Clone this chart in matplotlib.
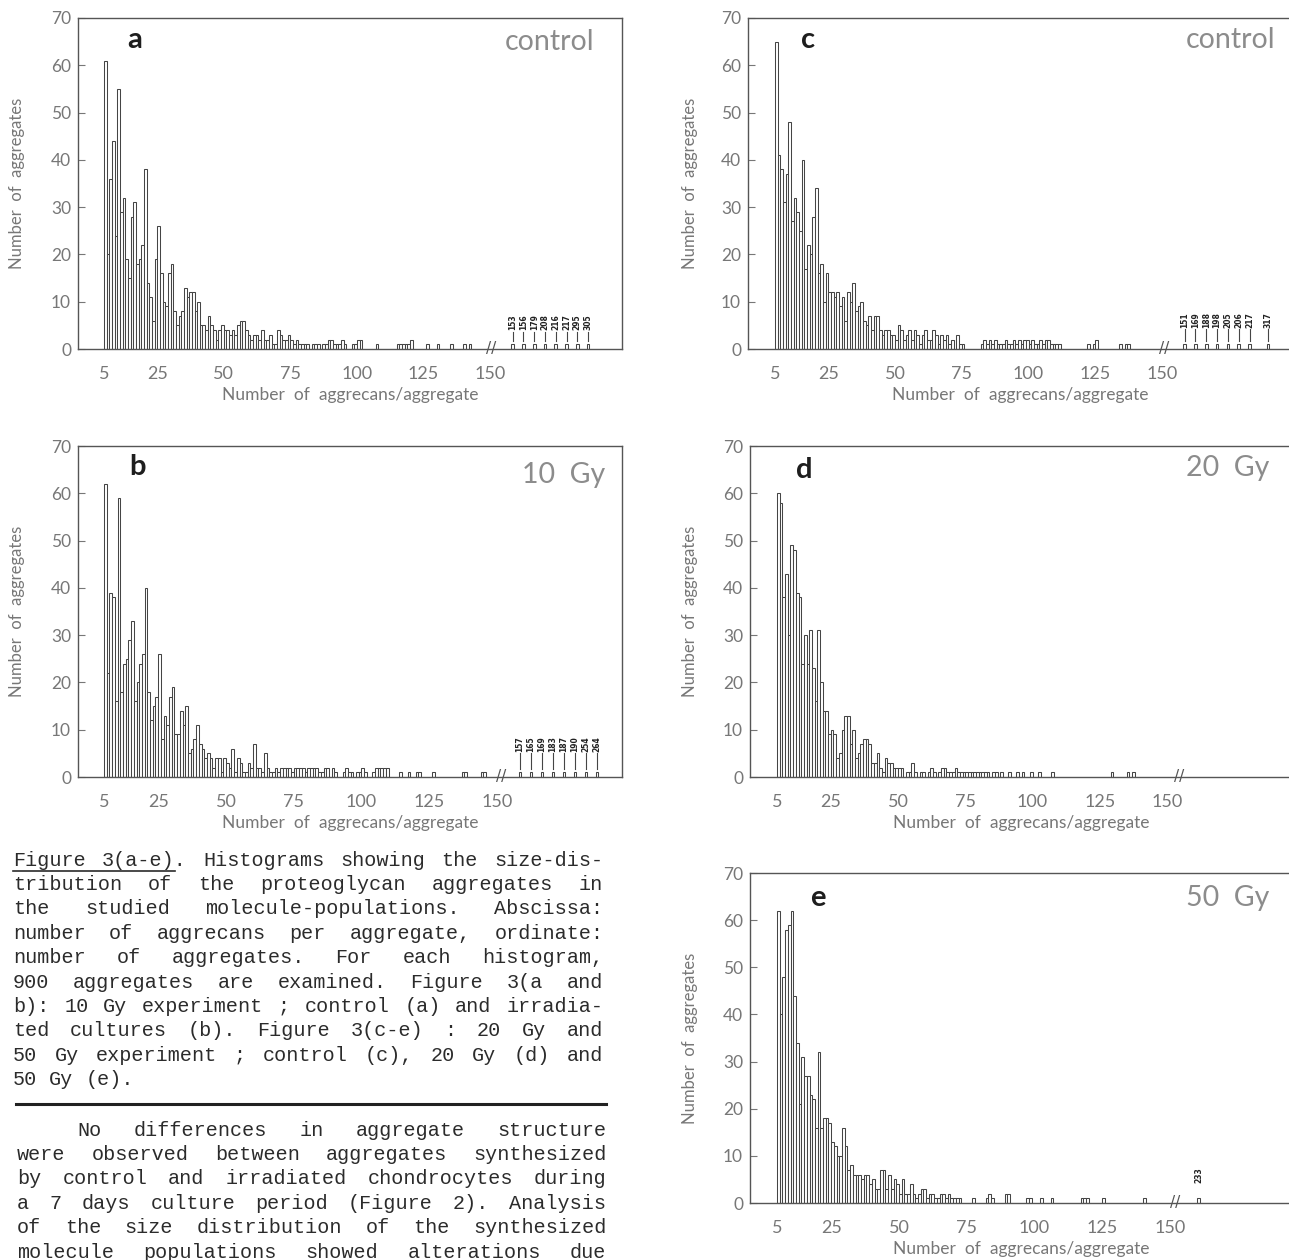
import matplotlib.pyplot as plt
from matplotlib.lines import Line2D
import numpy as np

W, H = 1289, 1260
first_value = 5

# counts per size class (5, 6, 7, ...)
counts_a = [61, 20, 36, 44, 24, 55, 29, 32, 19, 15,
            28, 31, 18, 19, 22, 38, 14, 11, 6, 19,
            26, 16, 10, 9, 16, 18, 8, 5, 7, 8,
            13, 11, 12, 12, 8, 10, 5, 5, 4, 7,
            5, 4, 2, 4, 5, 4, 4, 3, 4, 3,
            5, 6, 6, 4, 3, 2, 3, 3, 2, 4,
            2, 2, 3, 1, 1, 4, 3, 2, 2, 3,
            2, 1, 2, 1, 1, 1, 1, 0, 1, 1,
            1, 0, 1, 1, 2, 2, 1, 1, 1, 2,
            1, 0, 0, 1, 1, 2, 2, 0, 0, 0,
            0, 0, 1, 0, 0, 0, 0, 0, 0, 0,
            1, 1, 1, 1, 1, 2, 0, 0, 0, 0,
            0, 1, 0, 0, 0, 1, 0, 0, 0, 0,
            1, 0, 0, 0, 0, 1, 0, 1]
counts_b = [62, 22, 39, 38, 16, 59, 18, 24, 25, 29,
            33, 16, 20, 24, 26, 40, 18, 12, 15, 17,
            26, 8, 13, 11, 17, 19, 9, 9, 14, 11,
            15, 5, 6, 8, 11, 7, 6, 4, 5, 4,
            2, 4, 4, 1, 4, 3, 2, 6, 1, 4,
            3, 1, 1, 3, 2, 7, 2, 2, 1, 5,
            2, 1, 1, 2, 1, 2, 2, 2, 2, 1,
            2, 2, 2, 2, 1, 2, 2, 2, 2, 1,
            1, 2, 2, 0, 2, 1, 0, 0, 1, 2,
            1, 1, 0, 1, 1, 2, 1, 0, 0, 1,
            2, 2, 2, 2, 2, 0, 0, 0, 0, 1,
            0, 0, 1, 0, 0, 1, 1, 0, 0, 0,
            0, 1, 0, 0, 0, 0, 0, 0, 0, 0,
            0, 0, 1, 1, 0, 0, 0, 0, 0, 1,
            1]
counts_c = [65, 41, 38, 31, 37, 48, 27, 32, 29, 25,
            40, 17, 22, 20, 28, 34, 16, 18, 10, 16,
            12, 12, 11, 12, 9, 11, 6, 12, 10, 14,
            8, 9, 10, 6, 5, 7, 4, 7, 7, 4,
            3, 4, 4, 3, 3, 2, 5, 4, 2, 3,
            4, 2, 4, 3, 1, 3, 4, 2, 2, 4,
            3, 1, 3, 2, 3, 1, 2, 0, 3, 1,
            1, 0, 0, 0, 0, 0, 0, 1, 2, 1,
            2, 1, 2, 1, 1, 1, 2, 1, 1, 2,
            1, 2, 1, 2, 2, 1, 2, 1, 1, 2,
            1, 2, 2, 1, 1, 1, 1, 0, 0, 0,
            0, 0, 0, 0, 0, 0, 0, 1, 0, 1,
            2, 0, 0, 0, 0, 0, 0, 0, 0, 1,
            0, 1, 1]
counts_d = [60, 58, 38, 43, 30, 49, 48, 39, 38, 24,
            30, 24, 31, 23, 16, 31, 20, 14, 14, 9,
            10, 9, 4, 5, 10, 13, 13, 7, 10, 4,
            5, 7, 8, 8, 7, 3, 3, 5, 2, 1,
            4, 3, 3, 2, 2, 2, 2, 0, 1, 1,
            3, 1, 0, 1, 1, 0, 1, 2, 1, 0,
            1, 2, 2, 1, 1, 1, 2, 1, 1, 1,
            1, 1, 1, 1, 1, 1, 1, 1, 1, 0,
            1, 1, 0, 1, 0, 0, 1, 0, 0, 1,
            0, 1, 0, 0, 1, 0, 0, 1, 0, 0,
            0, 0, 1, 0, 0, 0, 0, 0, 0, 0,
            0, 0, 0, 0, 0, 0, 0, 0, 0, 0,
            0, 0, 0, 0, 1, 0, 0, 0, 0, 0,
            1, 0, 1]
counts_e = [62, 40, 48, 58, 59, 62, 44, 34, 21, 31,
            27, 27, 23, 22, 16, 32, 16, 18, 18, 17,
            13, 12, 10, 10, 16, 12, 7, 8, 6, 6,
            6, 5, 6, 6, 4, 5, 3, 3, 7, 7,
            3, 6, 3, 5, 4, 2, 5, 2, 2, 4,
            2, 1, 2, 3, 3, 1, 2, 2, 1, 1,
            2, 2, 1, 2, 1, 1, 1, 1, 0, 0,
            0, 0, 1, 0, 0, 0, 0, 1, 2, 1,
            0, 0, 0, 0, 2, 2, 0, 0, 0, 0,
            0, 0, 1, 1, 0, 0, 0, 1, 0, 0,
            0, 1, 0, 0, 0, 0, 0, 0, 0, 0,
            0, 0, 1, 1, 1, 0, 0, 0, 0, 0,
            1, 0, 0, 0, 0, 0, 0, 0, 0, 0,
            0, 0, 0, 0, 0, 1]

# single large aggregates shown behind the axis break
outliers_a = [153, 156, 179, 208, 216, 217, 295, 305]
outliers_b = [157, 165, 169, 183, 187, 190, 254, 264]
outliers_c = [151, 169, 188, 198, 205, 206, 217, 317]
outliers_d = []
outliers_e = [233]

xticks = [5, 25, 50, 75, 100, 125, 150]
yticks = [0, 10, 20, 30, 40, 50, 60, 70]

caption_lines = [
    "Figure 3(a-e). Histograms showing the size-dis-",
    "tribution of the proteoglycan aggregates in",
    "the studied molecule-populations. Abscissa:",
    "number of aggrecans per aggregate, ordinate:",
    "number of aggregates. For each histogram,",
    "900 aggregates are examined. Figure 3(a and",
    "b): 10 Gy experiment ; control (a) and irradia-",
    "ted cultures (b). Figure 3(c-e) : 20 Gy and",
    "50 Gy experiment ; control (c), 20 Gy (d) and",
    "50 Gy (e).",
]
body_lines = [
    "No differences in aggregate structure",
    "were observed between aggregates synthesized",
    "by control and irradiated chondrocytes during",
    "a 7 days culture period (Figure 2). Analysis",
    "of the size distribution of the synthesized",
    "molecule populations showed alterations due",
]

GRAY = '#777777'
INK = '#454545'
SANS = ['Lato', 'DejaVu Sans']

fig = plt.figure(figsize=(W / 100, H / 100), dpi=100)


def px_axes(left, right, top, bottom):
    return fig.add_axes([left / W, 1 - bottom / H, (right - left) / W, (bottom - top) / H])


def panel(box, x5, x150, counts, outliers, slots, brk, letter, tag,
          letter_xy, tag_xy, ylab_px, line_top=3.6, label_y=4.0, show_lines=True):
    left, right, top, bottom = box
    ax = px_axes(left, right, top, bottom)
    s = (x150 - x5) / 145.0
    ax.set_xlim(5 + (left - x5) / s, 5 + (right - x5) / s)
    ax.set_ylim(0, 70)

    c = np.array(counts)
    x = np.arange(first_value, first_value + len(c))
    keep = c > 0
    ax.bar(x[keep], c[keep], width=1, align='edge', facecolor='white',
           edgecolor=INK, linewidth=0.75)

    if outliers:
        pos = 158 + 4.05 * np.array(slots)
        ax.bar(pos, np.ones(len(pos)), width=1, align='edge', facecolor='white',
               edgecolor=INK, linewidth=0.75)
        for p, v in zip(pos, outliers):
            if show_lines:
                ax.plot([p + 0.5, p + 0.5], [1.6, line_top], color=INK, lw=0.8)
            ax.text(p + 0.5, label_y, str(v), rotation=90, ha='center', va='bottom',
                    fontsize=5.5, fontweight='bold', color='#222')
    ax.text(brk, 0.2, '//', ha='center', va='center', fontsize=11, color='#555')

    for sp in ax.spines.values():
        sp.set_color('#555')
        sp.set_linewidth(1.0)

    ax.set_xticks(xticks)
    ax.set_yticks(yticks)
    ax.tick_params(axis='x', length=0, pad=12, labelsize=13, colors=GRAY)
    ax.tick_params(axis='y', direction='in', length=5, width=0.8, pad=5,
                   labelsize=12.5, colors=GRAY)
    for lab in ax.get_xticklabels() + ax.get_yticklabels():
        lab.set_fontfamily(SANS)

    ax.set_xlabel('Number  of  aggrecans/aggregate', fontsize=12.5, family=SANS, color=GRAY)
    ax.set_ylabel('Number  of  aggregates', fontsize=12, family=SANS, color=GRAY)
    ax.xaxis.set_label_coords(0.5, -(387 - 349) / 331)
    ax.yaxis.set_label_coords(-(left - ylab_px) / (right - left), 0.5)

    ax.text(letter_xy[0], letter_xy[1], letter, transform=ax.transAxes, ha='center',
            va='center', fontsize=21, fontweight='bold', family=SANS, color='#1e1e1e')
    ax.text(tag_xy[0], tag_xy[1], tag, transform=ax.transAxes, ha='right',
            va='center', fontsize=20.5, family=SANS, color='#8c8c8c')
    return ax


panel((78, 622, 18, 349), 104, 490, counts_a, outliers_a, [0, 1, 2, 3, 4, 5, 6, 7],
      150.6, 'a', 'control', (0.105, 0.934), (0.95, 0.928), 25, 3.6, 4.0)
panel((78, 622, 446, 777), 104, 497, counts_b, outliers_b, [0, 1, 2, 3, 4, 5, 6, 7],
      151.5, 'b', '10  Gy', (0.11, 0.937), (0.969, 0.912), 25, 5.0, 5.3)
panel((748, 1292, 18, 349), 775, 1162, counts_c, outliers_c, [0, 1, 2, 3, 4, 5, 6, 7.7],
      150.8, 'c', 'control', (0.11, 0.934), (0.969, 0.934), 698, 4.2, 4.4)
panel((750, 1292, 446, 777), 777, 1167, counts_d, outliers_d, [],
      154.5, 'd', '20  Gy', (0.10, 0.927), (0.959, 0.933), 698)
panel((750, 1292, 873, 1203), 777, 1170, counts_e, outliers_e, [0.5],
      151.8, 'e', '50  Gy', (0.125, 0.924), (0.959, 0.924), 698, 0, 4.2, show_lines=False)

# ---- justified caption and body text ----
FS = 14.5
CW = 0.6 * FS * 100 / 72.0
MONO = ['Liberation Mono', 'DejaVu Sans Mono']


def put_line(text, x0, x1, y, justify=True):
    words = text.split()
    n = sum(len(w) for w in words)
    gap = (x1 - x0 - n * CW) / (len(words) - 1) if (justify and len(words) > 1) else CW
    xs = []
    x = x0
    for w in words:
        fig.text(x / W, 1 - y / H, w, fontsize=FS, family=MONO,
                 ha='left', va='center', color='#2b2b2b')
        xs.append(x)
        x += len(w) * CW + gap
    return xs


cap_y0, step = 860, 24.4
for i, line in enumerate(caption_lines):
    xs = put_line(line, 13, 603, cap_y0 + i * step, justify=(i < len(caption_lines) - 1))
    if i == 0:
        uy = 1 - (cap_y0 + 11) / H
        fig.add_artist(Line2D([13 / W, (xs[1] + 6 * CW) / W], [uy, uy], color='#2b2b2b', lw=1.2))

fig.add_artist(Line2D([16 / W, 606 / W], [1 - 1104 / H, 1 - 1104 / H], color='#222', lw=2.2))

body_y0 = 1130
for i, line in enumerate(body_lines):
    x0 = 77 if i == 0 else 17
    put_line(line, x0, 606, body_y0 + i * step)

fig.savefig('out.png', dpi=100, facecolor='white')
